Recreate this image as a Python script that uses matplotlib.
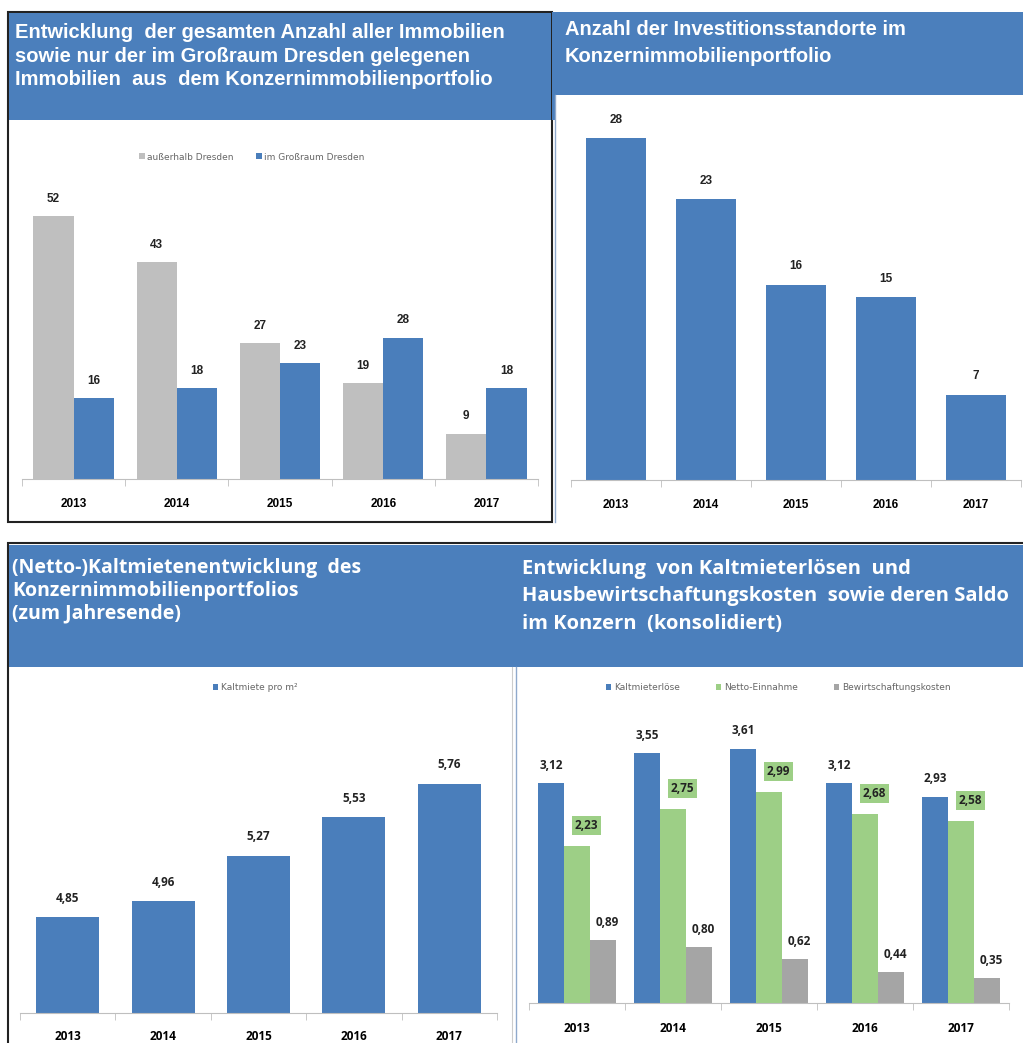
import numpy as np
import matplotlib
matplotlib.use("Agg")
import matplotlib.pyplot as plt
from matplotlib.patches import Rectangle

# data
years = ["2013", "2014", "2015", "2016", "2017"]
ausserhalb_dresden = [52, 43, 27, 19, 9]
grossraum_dresden = [16, 18, 23, 28, 18]
standorte = [28, 23, 16, 15, 7]
kaltmiete_m2 = [4.85, 4.96, 5.27, 5.53, 5.76]
kaltmieterloese = [3.12, 3.55, 3.61, 3.12, 2.93]
netto_einnahme = [2.23, 2.75, 2.99, 2.68, 2.58]
bewirtschaftung = [0.89, 0.80, 0.62, 0.44, 0.35]

BLUE = "#4a7ebb"
HEAD = "#4b7fbc"
GRAY = "#bfbfbf"
GRAY2 = "#a5a5a5"
GREEN = "#9dcf86"

ARIAL = ["Liberation Sans", "DejaVu Sans"]
CAL = ["Open Sans", "DejaVu Sans"]

W, H = 1023, 1043
fig = plt.figure(figsize=(W / 100, H / 100), dpi=100)

# background layer in pixel coordinates
bg = fig.add_axes([0, 0, 1, 1])
bg.set_xlim(0, W)
bg.set_ylim(H, 0)
bg.axis("off")


def box(x0, y0, x1, y1, **kw):
    bg.add_patch(Rectangle((x0, y0), x1 - x0, y1 - y0, **kw))


# top left panel
box(8, 12, 552, 522, facecolor="white", edgecolor="#222222", lw=1.5)
box(9, 13, 551, 120, facecolor=HEAD, edgecolor="none")
# top right panel
box(552, 12, 1023, 95, facecolor=HEAD, edgecolor="none")
box(552, 95, 556, 120, facecolor=HEAD, edgecolor="none")
bg.plot([555, 555], [95, 522], color="#8fa9cc", lw=1)
# bottom panels
box(8, 543, 1030, 1060, facecolor="white", edgecolor="#222222", lw=1.5)
box(9, 545, 1023, 667, facecolor=HEAD, edgecolor="none")
bg.plot([516, 516], [667, 1043], color="#8fa9cc", lw=1)
bg.plot([512, 512], [667, 1043], color="#cccccc", lw=0.8)

bg.text(15, 23, "Entwicklung  der gesamten Anzahl aller Immobilien\n"
        "sowie nur der im Großraum Dresden gelegenen\n"
        "Immobilien  aus  dem Konzernimmobilienportfolio",
        color="white", fontsize=14.5, fontweight="bold", family=ARIAL,
        va="top", ha="left", linespacing=1.3)
bg.text(565, 20, "Anzahl der Investitionsstandorte im\nKonzernimmobilienportfolio",
        color="white", fontsize=14.5, fontweight="bold", family=ARIAL,
        va="top", ha="left", linespacing=1.5)
bg.text(12, 558, "(Netto-)Kaltmietenentwicklung  des\nKonzernimmobilienportfolios\n(zum Jahresende)",
        color="white", fontsize=14, fontweight="bold", family=CAL,
        va="top", ha="left", linespacing=1.18)
bg.text(522, 559, "Entwicklung  von Kaltmieterlösen  und\n"
        "Hausbewirtschaftungskosten  sowie deren Saldo\n"
        "im Konzern  (konsolidiert)",
        color="white", fontsize=14.5, fontweight="bold", family=CAL,
        va="top", ha="left", linespacing=1.5)


def panel_ax(x0, x1, ytop, ybot):
    ax = fig.add_axes([x0 / W, 1 - ybot / H, (x1 - x0) / W, (ybot - ytop) / H])
    ax.patch.set_alpha(0)
    ax.set_xlim(-0.5, 4.5)
    for s in ["top", "right", "left"]:
        ax.spines[s].set_visible(False)
    ax.spines["bottom"].set_color("#bfbfbf")
    ax.set_yticks([])
    ax.set_xticks(np.arange(5))
    ax.set_xticks(np.arange(-0.5, 5, 1), minor=True)
    ax.tick_params(axis="x", which="major", length=0, pad=14)
    ax.tick_params(axis="x", which="minor", length=5, color="#bfbfbf", direction="out")
    return ax


def labels(ax, xs, vals, fmt, fam, off=4, fs=8.5, **kw):
    for x, v in zip(xs, vals):
        ax.annotate(fmt(v), (x, v), xytext=(0, off), textcoords="offset points",
                    ha="center", va="bottom", fontsize=fs, fontweight="bold",
                    family=fam, color="#222222", **kw)


def comma(v):
    return f"{v:.2f}".replace(".", ",")


x = np.arange(len(years))

# top left
ax1 = panel_ax(22, 538, 176, 479)
ax1.set_ylim(0, 60)
w = 0.39
ax1.bar(x - w / 2, ausserhalb_dresden, w, color=GRAY, label="außerhalb Dresden")
ax1.bar(x + w / 2, grossraum_dresden, w, color=BLUE, label="im Großraum Dresden")
labels(ax1, x - w / 2, ausserhalb_dresden, str, ARIAL, off=8)
labels(ax1, x + w / 2, grossraum_dresden, str, ARIAL, off=8)
ax1.set_xticklabels(years, fontsize=8.5, fontweight="bold", family=ARIAL)
ax1.legend(loc="center", bbox_to_anchor=(252 / W, 1 - 157 / H), bbox_transform=fig.transFigure,
           ncol=2, frameon=False, fontsize=6.5, handlelength=0.6, handleheight=0.6,
           columnspacing=2.5, handletextpad=0.3, labelcolor="#666666")

# top right
ax2 = panel_ax(571, 1021, 114, 480)
ax2.set_ylim(0, 30)
ax2.bar(x, standorte, 0.66, color=BLUE)
labels(ax2, x, standorte, str, ARIAL, off=9)
ax2.set_xticklabels(years, fontsize=8.5, fontweight="bold", family=ARIAL)

# bottom left
ax3 = panel_ax(20, 497, 719, 1013)
ax3.set_ylim(4.2, 6.2)
ax3.bar(x, kaltmiete_m2, 0.66, color=BLUE, label="Kaltmiete pro m²")
labels(ax3, x, kaltmiete_m2, comma, CAL, off=9, fs=8.5)
ax3.set_xticklabels(years, fontsize=8.5, fontweight="bold", family=CAL)
ax3.tick_params(axis="x", which="major", pad=12)
ax3.legend(loc="center", bbox_to_anchor=(255 / W, 1 - 688 / H), bbox_transform=fig.transFigure,
           frameon=False, fontsize=6.5, handlelength=0.6, handleheight=0.6,
           handletextpad=0.3, labelcolor="#666666")

# bottom right
ax4 = panel_ax(529, 1009, 707, 1003)
ax4.set_ylim(0, 4.2)
w = 0.27
ax4.bar(x - w, kaltmieterloese, w, color=BLUE, label="Kaltmieterlöse")
ax4.bar(x, netto_einnahme, w, color=GREEN, label="Netto-Einnahme")
ax4.bar(x + w, bewirtschaftung, w, color=GRAY2, label="Bewirtschaftungskosten")
labels(ax4, x - w, kaltmieterloese, comma, CAL, off=8)
labels(ax4, x + w + 0.05, bewirtschaftung, comma, CAL, off=8)
for xi, v in zip(x, netto_einnahme):
    ax4.annotate(comma(v), (xi + 0.1, v), xytext=(0, 10), textcoords="offset points",
                 ha="center", va="bottom", fontsize=8.5, fontweight="bold", family=CAL,
                 color="#222222",
                 bbox=dict(boxstyle="square,pad=0.25", facecolor=GREEN, edgecolor="none"))
ax4.set_xticklabels(years, fontsize=8.5, fontweight="bold", family=CAL)
ax4.tick_params(axis="x", which="major", pad=14)
ax4.legend(loc="center", bbox_to_anchor=(778 / W, 1 - 688 / H), bbox_transform=fig.transFigure,
           ncol=3, frameon=False, fontsize=6.5, handlelength=0.6, handleheight=0.6,
           columnspacing=4.0, handletextpad=0.3, labelcolor="#666666")

fig.savefig("out.png", dpi=100)
